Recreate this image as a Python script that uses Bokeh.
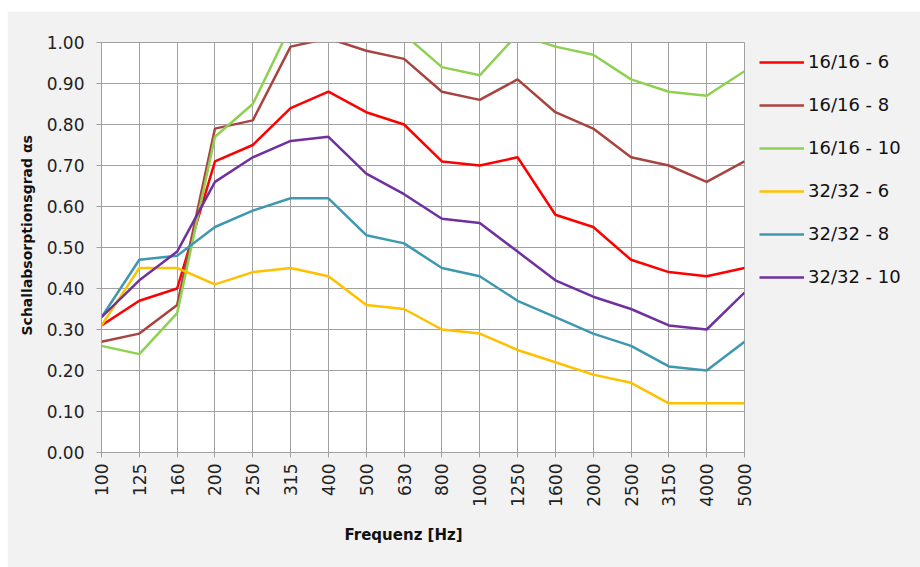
import math
from bokeh.plotting import figure
from bokeh.models import Range1d, FixedTicker, Legend, LegendItem, Spacer, NumeralTickFormatter, Title
from bokeh.layouts import column, row
from bokeh.embed import file_html
from bokeh.resources import INLINE

freqs = ["100", "125", "160", "200", "250", "315", "400", "500", "630", "800",
         "1000", "1250", "1600", "2000", "2500", "3150", "4000", "5000"]

s_16_6 = [0.31, 0.37, 0.40, 0.71, 0.75, 0.84, 0.88, 0.83, 0.80, 0.71, 0.70, 0.72, 0.58, 0.55, 0.47, 0.44, 0.43, 0.45]
s_16_8 = [0.27, 0.29, 0.36, 0.79, 0.81, 0.99, 1.01, 0.98, 0.96, 0.88, 0.86, 0.91, 0.83, 0.79, 0.72, 0.70, 0.66, 0.71]
s_16_10 = [0.26, 0.24, 0.34, 0.77, 0.85, 1.04, 1.06, 1.05, 1.02, 0.94, 0.92, 1.02, 0.99, 0.97, 0.91, 0.88, 0.87, 0.93]
s_32_6 = [0.31, 0.45, 0.45, 0.41, 0.44, 0.45, 0.43, 0.36, 0.35, 0.30, 0.29, 0.25, 0.22, 0.19, 0.17, 0.12, 0.12, 0.12]
s_32_8 = [0.33, 0.47, 0.48, 0.55, 0.59, 0.62, 0.62, 0.53, 0.51, 0.45, 0.43, 0.37, 0.33, 0.29, 0.26, 0.21, 0.20, 0.27]
s_32_10 = [0.33, 0.42, 0.49, 0.66, 0.72, 0.76, 0.77, 0.68, 0.63, 0.57, 0.56, 0.49, 0.42, 0.38, 0.35, 0.31, 0.30, 0.39]

series_names = ["16/16 - 6", "16/16 - 8", "16/16 - 10", "32/32 - 6", "32/32 - 8", "32/32 - 10"]
series_values = [s_16_6, s_16_8, s_16_10, s_32_6, s_32_8, s_32_10]
series_colors = ["#ff0000", "#a8443f", "#8ed04f", "#ffc000", "#3e98b0", "#7030a0"]

y_ticks = [0.0, 0.1, 0.2, 0.3, 0.4, 0.5, 0.6, 0.7, 0.8, 0.9, 1.0]
x_title = "Frequenz [Hz]"
y_title = "Schallabsorptionsgrad  \u03b1s"

BG = "#f2f2f2"
GRID = "#a0a0a0"
FONT = "DejaVu Sans"

p = figure(frame_width=643, frame_height=410,
           min_border_left=94, min_border_right=171, min_border_top=31, min_border_bottom=115,
           x_range=Range1d(0, len(freqs) - 1), y_range=Range1d(0, 1),
           output_backend="svg", toolbar_location=None,
           background_fill_color="white", border_fill_color=BG)
p.outline_line_color = GRID

xs = list(range(len(freqs)))
items = []
for name, vals, col in zip(series_names, series_values, series_colors):
    r = p.line(xs, vals, line_color=col, line_width=2.5)
    items.append(LegendItem(label=name, renderers=[r]))

# axes
p.xaxis.ticker = FixedTicker(ticks=xs)
p.xaxis.major_label_overrides = {i: f for i, f in enumerate(freqs)}
p.xaxis.major_label_orientation = math.pi / 2
p.yaxis.ticker = FixedTicker(ticks=y_ticks)
p.yaxis.formatter = NumeralTickFormatter(format="0.00")

for ax in (p.xaxis[0], p.yaxis[0]):
    ax.axis_line_color = GRID
    ax.major_tick_line_color = GRID
    ax.major_tick_out = 5
    ax.major_tick_in = 0
    ax.minor_tick_line_color = None
    ax.major_label_text_font = FONT
    ax.major_label_text_font_size = "17px"
    ax.major_label_text_color = "#222222"

p.yaxis.major_label_standoff = 12
p.xaxis.major_label_standoff = 6

# axis titles, placed off the frame centre as in the original
p.add_layout(Title(text=x_title, align="left", offset=243, standoff=29,
                   text_font=FONT, text_font_size="15px", text_font_style="bold",
                   text_color="#111111"), "below")
p.add_layout(Title(text=y_title, align="left", offset=117, standoff=17,
                   text_font=FONT, text_font_size="14px", text_font_style="bold",
                   text_color="#111111"), "left")

p.xgrid.grid_line_color = GRID
p.ygrid.grid_line_color = GRID
p.xgrid.grid_line_width = 1
p.ygrid.grid_line_width = 1

legend = Legend(items=items, location=(15, 165))
legend.background_fill_color = BG
legend.background_fill_alpha = 1.0
legend.border_line_color = None
legend.margin = 0
legend.padding = 10
legend.glyph_width = 45
legend.glyph_height = 20
legend.label_height = 20
legend.spacing = 22
legend.label_standoff = 4
legend.label_text_font = FONT
legend.label_text_font_size = "18px"
legend.label_text_color = "#111111"
p.add_layout(legend, "right")

layout = column(Spacer(height=11), row(Spacer(width=7), p))
open("out.html", "w").write(file_html(layout, INLINE))
